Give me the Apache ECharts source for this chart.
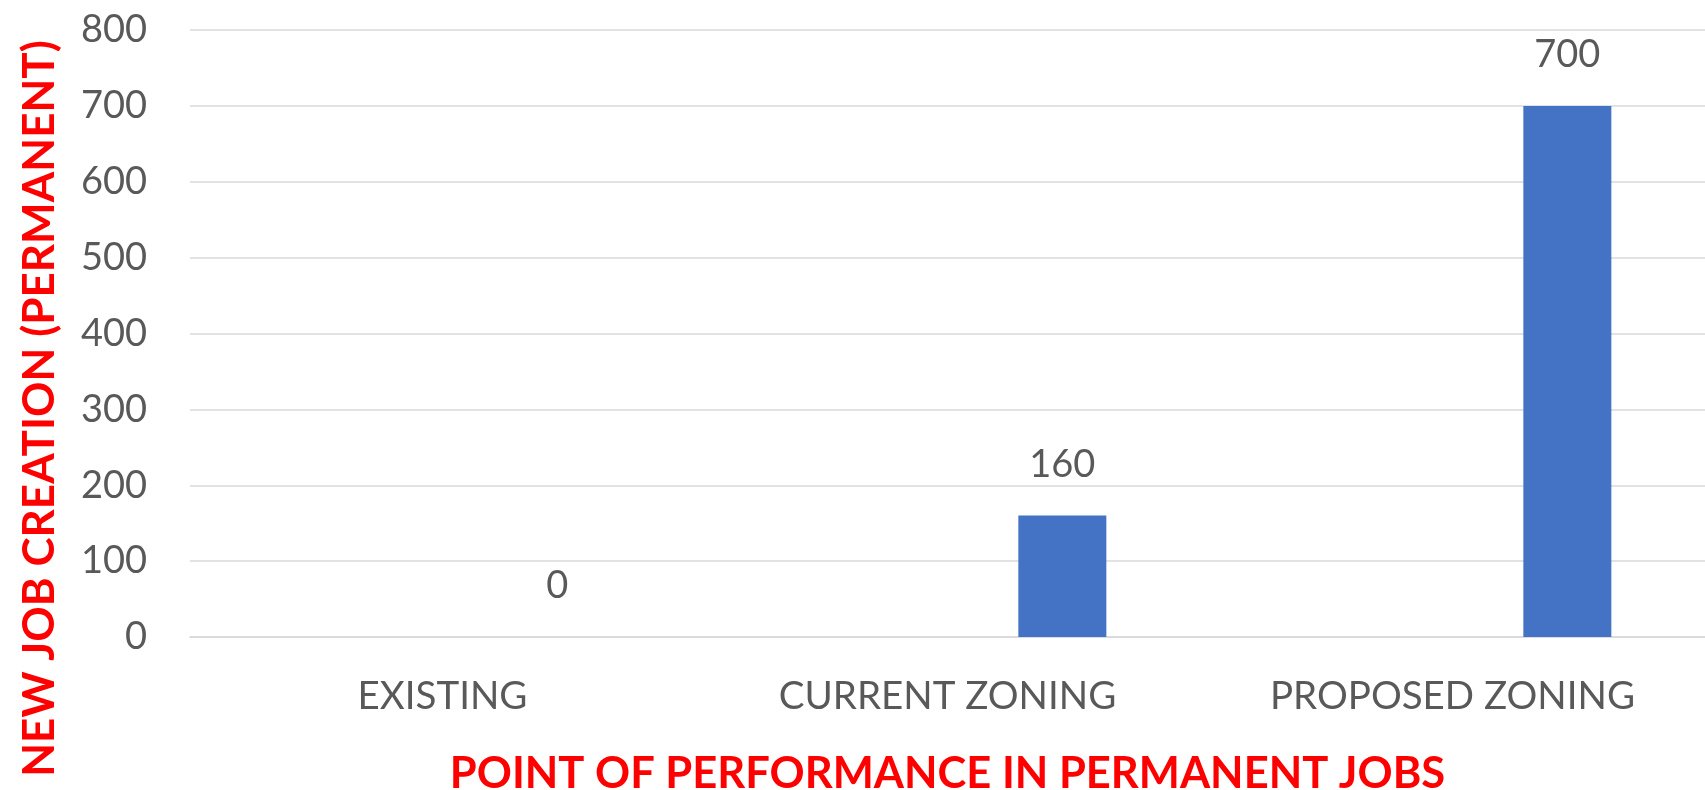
<!DOCTYPE html>
<html>
<head>
<meta charset="utf-8">
<style>
  html, body { margin: 0; padding: 0; background: #fff; }
  #main { width: 1705px; height: 790px; }
</style>
<script src="https://cdn.jsdelivr.net/npm/echarts@6/dist/echarts.min.js"></script>
</head>
<body>
<div id="main"></div>
<script>
// chart data
var categories = ['EXISTING', 'CURRENT ZONING', 'PROPOSED ZONING'];
var jobValues = [0, 160, 700];
// empty first series of the original cluster (keeps bars to the right of the label)
var emptySeries = [null, null, null];
var yTicks = { min: 0, max: 800, step: 100 };

var xTitle = 'POINT OF PERFORMANCE IN PERMANENT JOBS';
var yTitle = 'NEW JOB CREATION (PERMANENT)';

var chartDom = document.getElementById('main');
var myChart = echarts.init(chartDom);
var option;

var grey = '#595959';
var font = 'Lato, "Open Sans", sans-serif';

option = {
    animation: false,
    grid: {
        left: 190,
        right: 0,
        top: 30,
        bottom: 153,
        containLabel: false,
        outerBoundsMode: 'none'
    },
    xAxis: {
        type: 'category',
        data: categories,
        axisTick: { show: false },
        axisLine: { lineStyle: { color: '#d9d9d9', width: 1.5 } },
        axisLabel: {
            color: grey,
            fontFamily: font,
            fontSize: 38.5,
            margin: 40
        },
        name: xTitle,
        nameLocation: 'middle',
        nameGap: 115,
        nameTextStyle: {
            color: '#ff0000',
            fontFamily: font,
            fontWeight: 'bold',
            fontSize: 43.5
        }
    },
    yAxis: {
        type: 'value',
        min: yTicks.min,
        max: yTicks.max,
        interval: yTicks.step,
        axisLine: { show: false },
        axisTick: { show: false },
        splitLine: { lineStyle: { color: '#d9d9d9', width: 1.5 } },
        axisLabel: {
            color: grey,
            fontFamily: font,
            fontSize: 38,
            margin: 43
        },
        name: yTitle,
        nameLocation: 'middle',
        nameRotate: 90,
        nameGap: 128,
        nameTextStyle: {
            color: '#ff0000',
            fontFamily: font,
            fontWeight: 'bold',
            fontSize: 44,
            // title sits lower than the plot middle in the original
            padding: [0, 150, 0, 0]
        }
    },
    series: [
        {
            name: 'Blank',
            type: 'bar',
            barWidth: 88,
            barGap: '161%',
            data: emptySeries
        },
        {
            name: 'Jobs',
            type: 'bar',
            barWidth: 88,
            itemStyle: { color: '#4472c4' },
            label: {
                show: true,
                position: 'top',
                distance: 32,
                color: grey,
                fontFamily: font,
                fontSize: 38
            },
            data: jobValues
        }
    ]
};

option && myChart.setOption(option);
</script>
</body>
</html>
